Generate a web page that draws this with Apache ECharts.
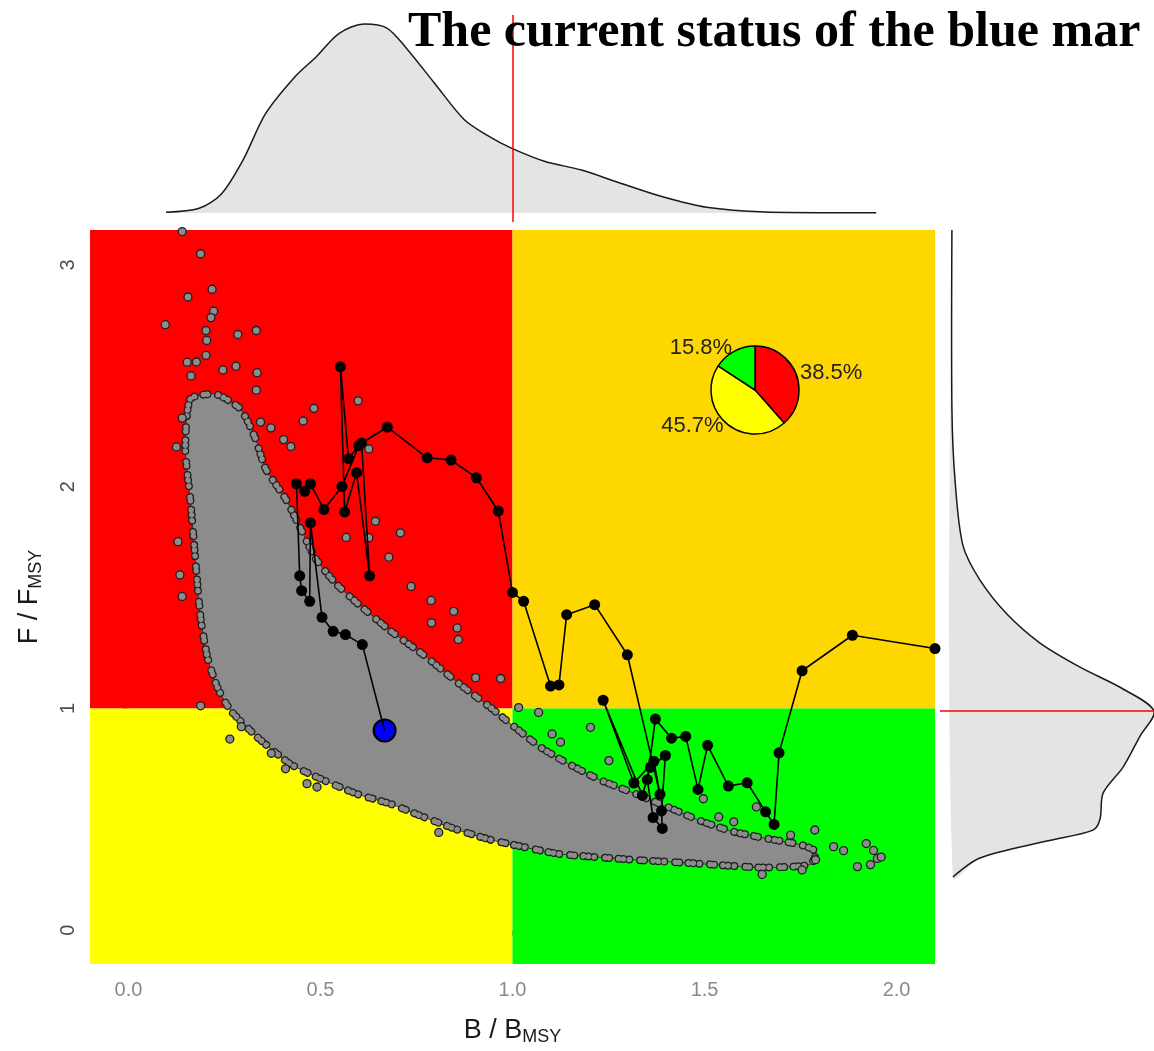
<!DOCTYPE html>
<html>
<head>
<meta charset="utf-8">
<title>Blue marlin Kobe plot</title>
<script src="https://cdn.jsdelivr.net/npm/echarts@6/dist/echarts.min.js"></script>
<style>
  html, body { margin: 0; padding: 0; background: #fff; }
  #main { width: 1154px; height: 1051px; }
</style>
</head>
<body>
<div id="main"></div>
<script>
// axis ranges and ticks
var bRange = [-0.1, 2.1];
var fRange = [-0.152, 3.157];
var xTicks = [0, 0.5, 1, 1.5, 2];
var yTicks = [0, 1, 2, 3];

// kobe quadrants [bFrom, bTo, fFrom, fTo]
var quadrants = [
  [-0.1, 1, 1, 3.157],
  [1, 2.1, 1, 3.157],
  [-0.1, 1, -0.152, 1],
  [1, 2.1, -0.152, 1]
];
var quadColors = ['#ff0000', '#ffd700', '#ffff00', '#00ff00'];

// outline of the dense grey cloud of bootstrap points
var cloudB = [0.161,0.227,0.292,0.331,0.357,0.409,0.448,0.487,0.539,0.596,0.682,0.768,0.857,0.943,1.000,1.073,1.143,1.229,1.315,1.404,1.490,1.576,1.664,1.750,1.790,1.775,1.646,1.490,1.315,1.203,1.117,1.000,0.943,0.857,0.768,0.682,0.596,0.508,0.422,0.336,0.266,0.232,0.206,0.188,0.174,0.161,0.148];
var cloudF = [2.395,2.417,2.350,2.215,2.081,1.946,1.812,1.677,1.565,1.475,1.350,1.242,1.117,1.004,0.924,0.825,0.753,0.677,0.619,0.556,0.493,0.444,0.413,0.386,0.354,0.296,0.283,0.300,0.318,0.332,0.345,0.386,0.408,0.453,0.511,0.570,0.614,0.677,0.749,0.870,0.991,1.094,1.229,1.408,1.677,1.946,2.170];

// scattered points outside the cloud
var outB = [0.140,0.188,0.218,0.155,0.222,0.215,0.096,0.202,0.333,0.285,0.204,0.202,0.153,0.177,0.280,0.246,0.335,0.163,0.333,0.140,0.125,0.598,0.483,0.455,0.371,0.344,0.404,0.423,0.643,0.708,0.567,0.626,0.678,0.736,0.788,0.847,0.789,0.129,0.134,0.140,0.626,0.188,0.264,0.294,0.372,0.409,0.465,0.491,0.808,0.856,0.859,0.969,0.904,1.016,1.068,1.103,1.125,1.203,1.251,1.787,1.724,1.921,1.950,1.898,1.836,1.789,1.754,1.862,1.932,1.650,1.497,1.537,1.576,1.635,1.960,1.940];
var outF = [3.15,3.05,2.89,2.855,2.791,2.762,2.73,2.704,2.704,2.686,2.659,2.592,2.561,2.562,2.543,2.526,2.514,2.499,2.435,2.309,2.179,2.387,2.353,2.296,2.265,2.291,2.212,2.181,1.844,1.792,1.771,1.770,1.682,1.550,1.487,1.438,1.386,1.752,1.602,1.505,2.170,1.012,0.862,0.918,0.798,0.728,0.661,0.646,0.441,1.363,1.311,1.135,1.139,1.004,0.982,0.885,0.848,0.915,0.765,0.452,0.429,0.391,0.324,0.287,0.377,0.318,0.272,0.359,0.296,0.252,0.593,0.511,0.489,0.556,0.33,0.36];

// stock trajectory, last point = current status
var trajB = [2.10,1.885,1.754,1.694,1.681,1.659,1.611,1.562,1.508,1.483,1.451,1.414,1.372,1.351,1.366,1.390,1.388,1.398,1.359,1.338,1.236,1.316,1.368,1.384,1.299,1.214,1.141,1.121,1.099,1.029,1.000,0.963,0.906,0.840,0.778,0.674,0.607,0.628,0.594,0.563,0.552,0.573,0.600,0.556,0.509,0.474,0.459,0.4375,0.446,0.451,0.472,0.474,0.504,0.533,0.565,0.609,0.667];
var trajF = [1.27,1.33,1.17,0.80,0.477,0.534,0.665,0.650,0.834,0.635,0.874,0.866,0.952,0.679,0.508,0.459,0.538,0.788,0.735,0.608,1.037,0.664,0.762,0.613,1.242,1.468,1.423,1.106,1.101,1.483,1.523,1.890,2.040,2.120,2.130,2.268,2.197,1.598,2.063,1.886,2.540,2.126,2.185,2.001,1.897,2.013,1.979,2.013,1.598,1.531,1.483,1.837,1.411,1.348,1.333,1.288,0.901];
var currentB = [0.667];
var currentF = [0.901];

// share of points in each quadrant
var pieNames = ['Overfished & overfishing', 'Overfished', 'Healthy'];
var pieValues = [38.5, 45.7, 15.8];
var pieColors = ['#ff0000', '#ffff00', '#00ff00'];

// marginal densities
var topDensB = [0.098,0.184,0.242,0.299,0.357,0.432,0.490,0.548,0.615,0.672,0.721,0.797,0.874,0.940,0.997,1.085,1.180,1.276,1.391,1.505,1.659,1.800,1.947];
var topDens = [0.004,0.025,0.10,0.28,0.52,0.71,0.82,0.94,0.99,0.97,0.87,0.68,0.49,0.40,0.34,0.27,0.225,0.16,0.085,0.03,0.005,0.002,0.002];
var rightF = [3.157,2.354,2.04,1.744,1.587,1.435,1.305,1.197,1.099,1.0,0.888,0.749,0.632,0.516,0.466,0.417,0.341,0.256];
var rightDens = [0,0,0.015,0.054,0.139,0.272,0.436,0.634,0.847,1.0,0.931,0.847,0.748,0.733,0.698,0.470,0.139,0.005];

var titleText = 'The current status of the blue mar';

var sans = '"Liberation Sans", Arial, sans-serif';
var cloudGrey = '#8c8c8c';
// uneven spacing so the edge dots don't look like a string of beads
var edgeDash = [0.01, 5, 0.01, 9, 0.01, 4, 0.01, 11, 0.01, 6];

var chart = echarts.init(document.getElementById('main'));

var option = {
  animation: false,
  title: {
    text: titleText,
    left: 403,
    top: 3,
    textStyle: { fontFamily: '"Liberation Serif", serif', fontWeight: 'bold', fontSize: 50, color: '#000' }
  },
  grid: [
    { left: 90, right: 219, top: 230, bottom: 83 },
    { left: 90, right: 219, top: 15, height: 207 },
    { left: 940, right: 0, top: 230, bottom: 83 }
  ],
  xAxis: [
    {
      gridIndex: 0, type: 'value', min: bRange[0], max: bRange[1],
      splitLine: { show: false }, axisLine: { show: false },
      axisTick: { show: true, customValues: xTicks, length: 6, lineStyle: { color: '#555' } },
      axisLabel: { customValues: xTicks, formatter: function (v) { return v.toFixed(1); }, color: '#8a8a8a', fontSize: 20, fontFamily: sans, margin: 16 },
      name: '{m|B / B}{s|MSY}', nameLocation: 'middle', nameGap: 52,
      nameTextStyle: { rich: {
        m: { fontSize: 27, fontFamily: sans, color: '#1a1a1a', lineHeight: 30 },
        s: { fontSize: 18, fontFamily: sans, color: '#1a1a1a', verticalAlign: 'bottom', lineHeight: 18 }
      } }
    },
    { gridIndex: 1, type: 'value', min: bRange[0], max: bRange[1], show: false },
    { gridIndex: 2, type: 'value', min: -0.059, max: 1, show: false }
  ],
  yAxis: [
    {
      gridIndex: 0, type: 'value', min: fRange[0], max: fRange[1],
      splitLine: { show: false }, axisLine: { show: false },
      axisTick: { show: true, customValues: yTicks, length: 6, lineStyle: { color: '#555' } },
      axisLabel: { customValues: yTicks, rotate: 90, color: '#4d4d4d', fontSize: 20, fontFamily: sans, margin: 12 },
      name: '{m|F / F}{s|MSY}', nameLocation: 'middle', nameRotate: 90, nameGap: 45,
      nameTextStyle: { rich: {
        m: { fontSize: 27, fontFamily: sans, color: '#1a1a1a', lineHeight: 30 },
        s: { fontSize: 18, fontFamily: sans, color: '#1a1a1a', verticalAlign: 'bottom', lineHeight: 18 }
      } }
    },
    { gridIndex: 1, type: 'value', min: -0.047, max: 1.037, show: false },
    { gridIndex: 2, type: 'value', min: fRange[0], max: fRange[1], show: false }
  ],
  series: [
    {
      // kobe quadrant backgrounds
      type: 'custom', xAxisIndex: 0, yAxisIndex: 0, silent: true, clip: true,
      data: quadrants,
      encode: { x: [0, 1], y: [2, 3] },
      renderItem: function (params, api) {
        var p0 = api.coord([api.value(0), api.value(3)]);
        var p1 = api.coord([api.value(1), api.value(2)]);
        return {
          type: 'rect',
          shape: { x: p0[0], y: p0[1], width: p1[0] - p0[0], height: p1[1] - p0[1] },
          style: { fill: quadColors[params.dataIndex] }
        };
      }
    },
    {
      // dense grey cloud, its edge drawn as a ragged row of outlined dots
      type: 'custom', xAxisIndex: 0, yAxisIndex: 0, silent: true, clip: true,
      data: [[cloudB[0], cloudF[0]]],
      renderItem: function (params, api) {
        var pts = cloudB.map(function (b, i) { return api.coord([b, cloudF[i]]); });
        return {
          type: 'group',
          children: [
            { type: 'polygon', shape: { points: pts, smooth: 0.2 }, style: { fill: cloudGrey, stroke: '#3a3a3a', lineWidth: 1 } },
            { type: 'polygon', shape: { points: pts, smooth: 0.2 },
              style: { fill: null, stroke: '#1e1e1e', lineWidth: 8, lineDash: edgeDash, lineCap: 'round' } },
            { type: 'polygon', shape: { points: pts, smooth: 0.2 },
              style: { fill: null, stroke: cloudGrey, lineWidth: 5.5, lineDash: edgeDash, lineCap: 'round' } }
          ]
        };
      }
    },
    {
      type: 'scatter', xAxisIndex: 0, yAxisIndex: 0, silent: true,
      data: outB.map(function (b, i) { return [b, outF[i]]; }),
      symbolSize: 8,
      itemStyle: { color: cloudGrey, borderColor: '#1e1e1e', borderWidth: 1.3, opacity: 1 }
    },
    {
      type: 'line', xAxisIndex: 0, yAxisIndex: 0, silent: true,
      data: trajB.map(function (b, i) { return [b, trajF[i]]; }),
      symbol: 'circle',
      symbolSize: function (v, p) { return p.dataIndex === trajB.length - 1 ? 0 : 11; },
      showAllSymbol: true,
      lineStyle: { color: '#000', width: 1.6 },
      itemStyle: { color: '#000' }
    },
    {
      type: 'scatter', xAxisIndex: 0, yAxisIndex: 0, silent: true,
      data: currentB.map(function (b, i) { return [b, currentF[i]]; }),
      symbolSize: 22,
      itemStyle: { color: '#0000ff', borderColor: '#000', borderWidth: 2, opacity: 1 }
    },
    {
      type: 'pie', silent: true,
      center: [755, 390], radius: 44,
      startAngle: 90, clockwise: true, avoidLabelOverlap: false,
      data: pieNames.map(function (n, i) { return { name: n, value: pieValues[i], itemStyle: { color: pieColors[i] } }; }),
      itemStyle: { borderColor: '#000', borderWidth: 1.5 },
      label: { show: true, position: 'outside', formatter: function (p) { return p.value.toFixed(1) + '%'; }, color: '#222', fontSize: 22, fontFamily: sans, distanceToLabelLine: 0 },
      labelLine: { show: false, length: 4, length2: 0 }
    },
    {
      // top marginal density of B/BMSY
      type: 'line', xAxisIndex: 1, yAxisIndex: 1, silent: true,
      data: topDensB.map(function (b, i) { return [b, topDens[i]]; }),
      smooth: 0.3, showSymbol: false,
      lineStyle: { color: '#1a1a1a', width: 1.5 },
      areaStyle: { color: '#e4e4e4', opacity: 1 },
      markLine: {
        silent: true, symbol: ['none', 'none'], label: { show: false },
        lineStyle: { color: '#ff0000', type: 'solid', width: 1.5 },
        data: [{ xAxis: 1 }]
      }
    },
    {
      // right marginal density of F/FMSY
      type: 'custom', xAxisIndex: 2, yAxisIndex: 2, silent: true, clip: true,
      data: [[rightDens[0], rightF[0]]],
      renderItem: function (params, api) {
        var pts = rightDens.map(function (d, i) { return api.coord([d, rightF[i]]); });
        return {
          type: 'group',
          children: [
            { type: 'polygon', shape: { points: pts, smooth: 0.3 }, style: { fill: '#e4e4e4' } },
            { type: 'polyline', shape: { points: pts, smooth: 0.3 }, style: { stroke: '#1a1a1a', lineWidth: 1.5, fill: null } }
          ]
        };
      }
    },
    {
      type: 'line', xAxisIndex: 2, yAxisIndex: 2, silent: true,
      data: [[-0.059, 1], [1, 1]],
      showSymbol: false,
      lineStyle: { color: '#ff0000', width: 1.5 }
    }
  ]
};

chart.setOption(option);
</script>
</body>
</html>
